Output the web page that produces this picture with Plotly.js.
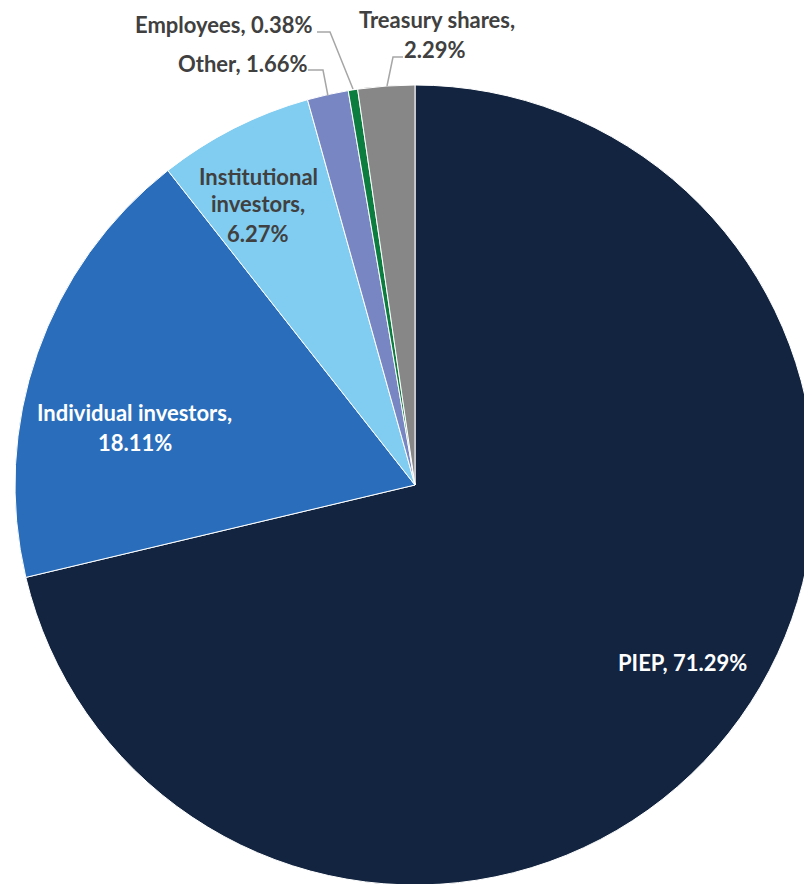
<!DOCTYPE html>
<html>
<head>
<meta charset="utf-8">
<script src="https://cdn.plot.ly/plotly-3.0.1.min.js"></script>
<style>
html,body{margin:0;padding:0;overflow:hidden;background:#fff;width:804px;height:884px;}
#chart{width:830px;height:970px;}
</style>
</head>
<body>
<div id="chart"></div>
<script>
const categories = ["PIEP", "Individual investors", "Institutional investors", "Other", "Employees", "Treasury shares"];
const shares = [71.29, 18.11, 6.27, 1.66, 0.38, 2.29];
const sliceColors = ["#12243F", "#2A6EBB", "#80CDF1", "#7887C3", "#0B7D3E", "#878787"];

const W = 830, H = 970, L = 15, T = 85, S = 800;
const px = x => (x - L) / S;
const py = y => 1 - (y - T) / S;
const FONT = "Lato, 'Open Sans', sans-serif";
const dark = "#404040";

function fmt(i){ return shares[i].toFixed(2) + "%"; }

function ann(x, y, text, color){
  return {xref:"paper", yref:"paper", x:px(x), y:py(y), text:text, showarrow:false,
    xanchor:"center", yanchor:"middle",
    font:{family:FONT, size:22, color:color, weight:"bold"}};
}

const annotations = [
  ann(682, 662, categories[0] + ", " + fmt(0), "#ffffff"),
  ann(134, 413, categories[1] + ",", "#ffffff"),
  ann(135, 442, fmt(1), "#ffffff"),
  ann(258, 176, "Institutional", dark),
  ann(258, 204, "investors,", dark),
  ann(258, 233, fmt(2), dark),
  ann(242, 64, categories[3] + ", " + fmt(3), dark),
  ann(223, 24, categories[4] + ", " + fmt(4), dark),
  ann(437, 20, categories[5] + ",", dark),
  ann(435, 49, fmt(5), dark)
];

function path(pts){
  return {type:"path", xref:"paper", yref:"paper",
    path: pts.map((p,i)=>(i?"L":"M")+px(p[0])+","+py(p[1])).join(" "),
    line:{color:"#A6A6A6", width:1.5}};
}
const shapes = [
  path([[308,70],[323,70],[328,96]]),
  path([[317,32],[330,32],[353,89]]),
  path([[403,57],[393,57],[387,86]])
];

const data = [{
  type:"pie",
  labels: categories,
  values: shares,
  sort:false,
  direction:"clockwise",
  rotation:0,
  textinfo:"none",
  hoverinfo:"label+percent",
  marker:{colors:sliceColors, line:{color:"#ffffff", width:1}},
  domain:{x:[0,1], y:[0,1]},
  showlegend:false
}];

const layout = {
  width:W, height:H,
  margin:{l:L, r:W-L-S, t:T, b:H-T-S},
  paper_bgcolor:"#ffffff",
  plot_bgcolor:"#ffffff",
  showlegend:false,
  annotations:annotations,
  shapes:shapes
};

Plotly.newPlot("chart", data, layout, {displayModeBar:false, staticPlot:true});
</script>
</body>
</html>
